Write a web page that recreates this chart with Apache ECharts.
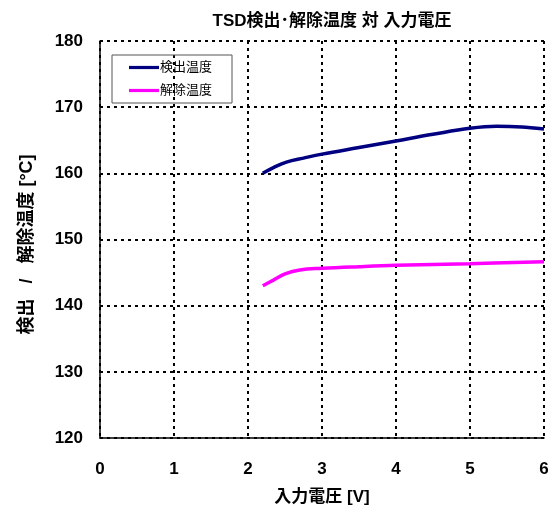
<!DOCTYPE html>
<html><head><meta charset="utf-8">
<script src="https://cdn.jsdelivr.net/npm/echarts@6/dist/echarts.min.js"></script>
<style>html,body{margin:0;padding:0;background:#fff}#c{width:554px;height:513px}</style>
</head><body><div id="c"></div>
<script>
const detectName = '検出温度';
const releaseName = '解除温度';
const detectX = [2.2, 2.35, 2.52, 2.75, 3.0, 3.5, 4.0, 4.5, 5.0, 5.36, 5.7, 6.0];
const detectY = [160.0, 160.9, 161.7, 162.3, 162.9, 163.9, 164.9, 165.9, 166.8, 167.1, 167.0, 166.7];
const releaseX = [2.2, 2.35, 2.5, 2.7, 3.0, 3.5, 4.0, 5.0, 6.0];
const releaseY = [143.0, 143.9, 144.8, 145.4, 145.65, 145.9, 146.1, 146.35, 146.65];
const xTicks = [0, 1, 2, 3, 4, 5, 6];
const yTicks = [120, 130, 140, 150, 160, 170, 180];
const FF = '"Liberation Sans", Arial, "Noto Sans CJK JP", sans-serif';
const chart = echarts.init(document.getElementById('c'));
chart.setOption({
  animation: false,
  textStyle: {fontFamily: FF},
  title: {text: 'TSD検出･解除温度 対 入力電圧', left: 327, top: 8, textAlign: 'center',
    textStyle: {fontFamily: FF, fontSize: 17, fontWeight: 'bold', color: '#000'}},
  legend: {
    left: 112, top: 55, orient: 'vertical', itemGap: 10, padding: [6, 20, 6, 17],
    borderColor: '#555', borderWidth: 1, itemWidth: 30, itemHeight: 10,
    icon: 'path://M0,3.4 L30,3.4 L30,6.6 L0,6.6 Z',
    textStyle: {fontFamily: FF, fontSize: 13, color: '#000', padding: [0, 0, 0, -4]},
    data: [detectName, releaseName]
  },
  grid: {left: 100, right: 10, top: 41, bottom: 75},
  xAxis: {
    type: 'value', min: 0, max: 6, interval: 1,
    name: '入力電圧 [V]', nameLocation: 'middle', nameGap: 51,
    nameTextStyle: {fontFamily: FF, fontSize: 17, fontWeight: 'bold', color: '#000'},
    axisLine: {show: true, onZero: false, lineStyle: {color: '#000', width: 1.5}},
    axisTick: {show: false},
    axisLabel: {fontFamily: FF, fontSize: 17, fontWeight: 'bold', color: '#000', margin: 23,
      formatter: v => xTicks.includes(v) ? String(v) : ''},
    splitLine: {show: true, lineStyle: {color: '#000', width: 2, type: [3, 4]}}
  },
  yAxis: {
    type: 'value', min: 120, max: 180, interval: 10,
    name: '検出   /   解除温度 [°C]', nameLocation: 'middle', nameGap: 64,
    nameTextStyle: {fontFamily: FF, fontSize: 18, fontWeight: 'bold', color: '#000', padding: [0, 10, 0, 0]},
    axisLine: {show: true, lineStyle: {color: '#000', width: 1.5}},
    axisTick: {show: false},
    axisLabel: {fontFamily: FF, fontSize: 17, fontWeight: 'bold', color: '#000', margin: 17,
      formatter: v => yTicks.includes(v) ? String(v) : ''},
    splitLine: {show: true, lineStyle: {color: '#000', width: 2, type: [3, 4]}}
  },
  series: [
    {name: detectName, type: 'line', smooth: 0.4, showSymbol: false, symbol: 'none',
      color: '#000080', lineStyle: {width: 3.5, color: '#000080'},
      data: detectX.map((x, i) => [x, detectY[i]])},
    {name: releaseName, type: 'line', smooth: 0.4, showSymbol: false, symbol: 'none',
      color: '#ff00ff', lineStyle: {width: 3.5, color: '#ff00ff'},
      data: releaseX.map((x, i) => [x, releaseY[i]])}
  ]
});
</script></body></html>
